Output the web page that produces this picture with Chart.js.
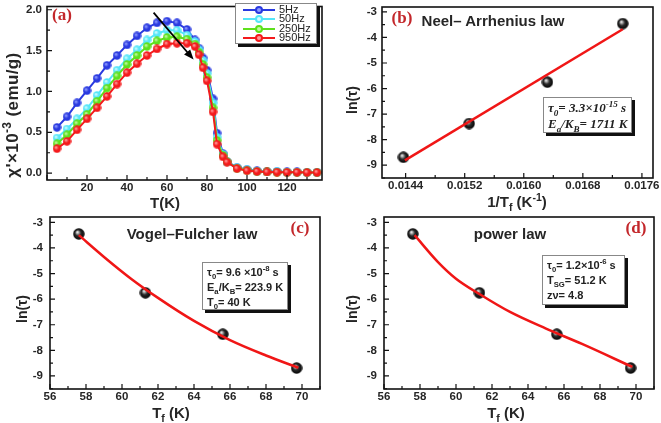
<!DOCTYPE html>
<html>
<head>
<meta charset="utf-8">
<script src="https://cdn.jsdelivr.net/npm/chart.js@4.4.1/dist/chart.umd.min.js"></script>
<style>
  body { margin: 0; background: #fff; }
  #fig { position: relative; width: 661px; height: 423px; overflow: hidden; font-family: 'Liberation Sans', Arial, sans-serif; }
  #fig canvas { position: absolute; }
  .lbl { position: absolute; transform: translate(-50%, -50%); white-space: nowrap; font-weight: bold; color: #262626; }
  .rot { transform: translate(-50%, -50%) rotate(-90deg); }
  .axt { font-size: 15px; }
  .yt { font-size: 14px; }
  .law { font-size: 15px; }
  .tag { font-family: 'Liberation Serif', 'DejaVu Serif', serif; color: #c3272b; font-size: 17px; }
  .box { position: absolute; background: #fff; border: 1px solid #888; box-shadow: 3px 3px 0 #111; font-weight: bold; font-size: 11px; line-height: 15px; padding: 2px 4px; box-sizing: border-box; color: #222; white-space: nowrap; }
  .box.it { font-family: 'Liberation Serif', 'DejaVu Serif', serif; font-style: italic; font-size: 13px; line-height: 16px; }
  sub, sup { font-size: 70%; line-height: 0; }
  #legA { position: absolute; left: 235px; top: 3px; width: 82px; height: 41px; background: #fff; border: 1px solid #888; box-shadow: 3px 3px 0 #111; box-sizing: border-box; font-size: 11px; color: #222; }
  #legA .row { position: relative; height: 9.3px; line-height: 9.3px; padding-left: 43px; }
  #legA .row:first-child { margin-top: 1px; }
  #legA .ln { position: absolute; left: 7px; top: 4px; width: 32px; height: 2px; }
  #legA .dot { position: absolute; left: 19px; top: 1px; width: 8px; height: 8px; border-radius: 50%; box-sizing: border-box; }
</style>
</head>
<body>
<div id="fig">
  <canvas id="chartA" width="330" height="200" style="left:0;top:0"></canvas>
  <canvas id="chartB" width="331" height="200" style="left:330px;top:0"></canvas>
  <canvas id="chartC" width="330" height="200" style="left:0;top:210px"></canvas>
  <canvas id="chartD" width="331" height="200" style="left:330px;top:210px"></canvas>

  <!-- panel a -->
  <div class="lbl tag" style="left:62px;top:15px">(a)</div>
  <div class="lbl axt rot" style="left:13px;top:115px;font-size:17px;letter-spacing:0.4px">χ'×10<sup>-3</sup> (emu/g)</div>
  <div class="lbl axt" style="left:165px;top:202px">T(K)</div>
  <div id="legA"></div>

  <!-- panel b -->
  <div class="lbl tag" style="left:402px;top:18px">(b)</div>
  <div class="lbl law" style="left:493px;top:20px">Neel– Arrhenius law</div>
  <div class="lbl yt rot" style="left:352px;top:100px">ln(τ)</div>
  <div class="lbl axt" style="left:517px;top:201px">1/T<sub>f</sub> (K<sup>-1</sup>)</div>
  <div class="box it" style="left:543px;top:97px;width:89px;height:36px">τ<sub>0</sub>= 3.3×10<sup>-15</sup> s<br>E<sub>a</sub>/K<sub>B</sub>= 1711 K</div>

  <!-- panel c -->
  <div class="lbl tag" style="left:300px;top:228px">(c)</div>
  <div class="lbl law" style="left:192px;top:233px">Vogel–Fulcher law</div>
  <div class="lbl yt rot" style="left:22px;top:309px">ln(τ)</div>
  <div class="lbl axt" style="left:171px;top:412px">T<sub>f</sub> (K)</div>
  <div class="box" style="left:202px;top:262px;width:86px;height:48px">τ<sub>0</sub>= 9.6 ×10<sup>-8</sup> s<br>E<sub>a</sub>/K<sub>B</sub>= 223.9 K<br>T<sub>0</sub>= 40 K</div>

  <!-- panel d -->
  <div class="lbl tag" style="left:636px;top:228px">(d)</div>
  <div class="lbl law" style="left:510px;top:233px">power law</div>
  <div class="lbl yt rot" style="left:352px;top:309px">ln(τ)</div>
  <div class="lbl axt" style="left:506px;top:412px">T<sub>f</sub> (K)</div>
  <div class="box" style="left:542px;top:255px;width:83px;height:50px">τ<sub>0</sub>= 1.2×10<sup>-6</sup> s<br>T<sub>SG</sub>= 51.2 K<br>zν= 4.8</div>
</div>

<script>
// ---- panel (a): ac susceptibility vs temperature ----
const tempK = [5, 10, 15, 20, 25, 30, 35, 40, 45, 50, 55, 60, 65, 70, 74, 76, 78, 80, 83, 85, 88, 90, 95, 100, 105, 110, 115, 120, 125, 130, 135];
const chi5Hz = [0.56, 0.69, 0.86, 1.01, 1.16, 1.32, 1.44, 1.57, 1.68, 1.78, 1.84, 1.86, 1.84, 1.76, 1.63, 1.53, 1.41, 1.26, 0.91, 0.49, 0.24, 0.14, 0.07, 0.045, 0.03, 0.02, 0.02, 0.015, 0.015, 0.01, 0.01];
const chi50Hz = [0.43, 0.54, 0.665, 0.79, 0.95, 1.11, 1.26, 1.40, 1.51, 1.63, 1.71, 1.75, 1.75, 1.69, 1.61, 1.51, 1.38, 1.22, 0.86, 0.44, 0.23, 0.14, 0.065, 0.04, 0.025, 0.02, 0.015, 0.012, 0.01, 0.01, 0.01];
const chi250Hz = [0.36, 0.47, 0.605, 0.72, 0.88, 1.04, 1.19, 1.33, 1.44, 1.55, 1.62, 1.66, 1.67, 1.64, 1.58, 1.48, 1.33, 1.17, 0.80, 0.40, 0.22, 0.14, 0.06, 0.035, 0.02, 0.015, 0.012, 0.01, 0.01, 0.008, 0.008];
const chi950Hz = [0.30, 0.39, 0.53, 0.665, 0.80, 0.94, 1.09, 1.23, 1.34, 1.44, 1.52, 1.58, 1.59, 1.59, 1.55, 1.45, 1.29, 1.13, 0.75, 0.355, 0.20, 0.135, 0.056, 0.03, 0.02, 0.015, 0.012, 0.01, 0.01, 0.008, 0.008];
const freqLabels = ['5Hz', '50Hz', '250Hz', '950Hz'];
const freqSeries = [chi5Hz, chi50Hz, chi250Hz, chi950Hz];
const lineColors = ['#2a3ae0', '#55e6f8', '#5ee01c', '#f41a1c'];
const dotColors = ['#8f9bff', '#d2fcff', '#c2f8a0', '#ff9a9a'];
const arrowFrom = [53.3, 1.965];
const arrowTo = [73.3, 1.39];

// ---- panels (b)-(d): freezing temperature fits ----
const invTf = [0.01437, 0.01526, 0.01632, 0.01734];
const lnTauB = [-8.69, -7.37, -5.75, -3.46];
const fitBx = [0.01439, 0.01734];
const fitBy = [-8.81, -3.68];

const tfK = [57.6, 61.3, 65.6, 69.7];
const lnTau = [-3.45, -5.75, -7.37, -8.69];
const fitCx = [57.6, 59, 60.5, 62, 64, 66, 68, 69.8];
const fitCy = [-3.5, -4.35, -5.2, -5.95, -6.85, -7.6, -8.2, -8.68];
const fitDx = [57.7, 59, 60, 61.3, 63, 65, 67, 69.8];
const fitDy = [-3.5, -4.55, -5.2, -5.8, -6.5, -7.15, -7.75, -8.65];

const fitRed = '#f01616';
const tickFont = { family: "'Liberation Sans', Arial, sans-serif", size: 11.5, weight: 'bold' };

function xy(xs, ys) {
  return xs.map((x, i) => ({ x: x, y: ys[i] }));
}

const isMult = (v, s) => Math.abs(v / s - Math.round(v / s)) < 1e-6;

// small shaded sphere used as a point style
function makeBall(diam, light, base, edge) {
  const c = document.createElement('canvas');
  c.width = diam;
  c.height = diam;
  const g = c.getContext('2d');
  const r = diam / 2;
  const grad = g.createRadialGradient(r * 0.75, r * 0.7, 0.5, r, r, r);
  grad.addColorStop(0, light);
  grad.addColorStop(0.45, base);
  grad.addColorStop(1, edge);
  g.fillStyle = grad;
  g.beginPath();
  g.arc(r, r, r - 0.3, 0, Math.PI * 2);
  g.fill();
  return c;
}

// closed black frame round the plot area, with inward major/minor ticks
const framePlugin = {
  id: 'frame',
  afterDraw(chart, args, opts) {
    const { ctx, chartArea: a, scales } = chart;
    ctx.save();
    ctx.strokeStyle = '#111';
    ctx.lineWidth = 1.2;
    ctx.beginPath();
    scales.x.ticks.forEach((t) => {
      const px = scales.x.getPixelForValue(t.value);
      const len = isMult(t.value, opts.xMajor) ? 5 : 3;
      ctx.moveTo(px, a.bottom);
      ctx.lineTo(px, a.bottom - len);
    });
    scales.y.ticks.forEach((t) => {
      const py = scales.y.getPixelForValue(t.value);
      const len = isMult(t.value, opts.yMajor) ? 5 : 3;
      ctx.moveTo(a.left, py);
      ctx.lineTo(a.left + len, py);
    });
    ctx.stroke();
    ctx.lineWidth = 1.6;
    ctx.strokeRect(a.left, a.top, a.right - a.left, a.bottom - a.top);
    ctx.restore();
  }
};

const arrowPlugin = {
  id: 'arrow',
  afterDatasetsDraw(chart) {
    const { ctx, scales } = chart;
    const x0 = scales.x.getPixelForValue(arrowFrom[0]);
    const y0 = scales.y.getPixelForValue(arrowFrom[1]);
    const x1 = scales.x.getPixelForValue(arrowTo[0]);
    const y1 = scales.y.getPixelForValue(arrowTo[1]);
    const ang = Math.atan2(y1 - y0, x1 - x0);
    ctx.save();
    ctx.strokeStyle = '#000';
    ctx.fillStyle = '#000';
    ctx.lineWidth = 1.8;
    ctx.beginPath();
    ctx.moveTo(x0, y0);
    ctx.lineTo(x1 - 7 * Math.cos(ang), y1 - 7 * Math.sin(ang));
    ctx.stroke();
    ctx.beginPath();
    ctx.moveTo(x1, y1);
    ctx.lineTo(x1 - 10 * Math.cos(ang) + 4 * Math.sin(ang), y1 - 10 * Math.sin(ang) - 4 * Math.cos(ang));
    ctx.lineTo(x1 - 10 * Math.cos(ang) - 4 * Math.sin(ang), y1 - 10 * Math.sin(ang) + 4 * Math.cos(ang));
    ctx.closePath();
    ctx.fill();
    ctx.restore();
  }
};

function axis(a, horizontal) {
  return {
    type: 'linear',
    min: a.min,
    max: a.max,
    border: { display: false },
    grid: { display: false, drawTicks: false },
    ticks: {
      stepSize: a.step,
      includeBounds: false,
      autoSkip: false,
      maxRotation: 0,
      padding: a.gap,
      color: '#262626',
      font: tickFont,
      callback: a.fmt
    },
    afterFit: (s) => {
      if (horizontal) s.height = a.size; else s.width = a.size;
      s.paddingTop = 0; s.paddingBottom = 0; s.paddingLeft = 0; s.paddingRight = 0;
    }
  };
}

function makePanel(id, cfg) {
  return new Chart(document.getElementById(id), {
    type: 'scatter',
    data: { datasets: cfg.datasets },
    options: {
      responsive: false,
      animation: false,
      devicePixelRatio: 1,
      layout: { padding: cfg.pad },
      plugins: {
        legend: { display: false },
        tooltip: { enabled: false },
        frame: { xMajor: cfg.x.major, yMajor: cfg.y.major }
      },
      scales: { x: axis(cfg.x, true), y: axis(cfg.y, false) }
    },
    plugins: [framePlugin].concat(cfg.extra || [])
  });
}

function fitLine(xs, ys, smooth) {
  return {
    data: xy(xs, ys),
    showLine: true,
    borderColor: fitRed,
    borderWidth: 2.5,
    pointRadius: 0,
    cubicInterpolationMode: smooth ? 'monotone' : 'default',
    order: 0
  };
}

const blackBall = makeBall(12, '#e8e8e8', '#2a2a2a', '#000');

function ballPoints(xs, ys) {
  return {
    data: xy(xs, ys),
    pointStyle: blackBall,
    pointRadius: 6,
    order: 1
  };
}

const tempFmt = (v) => isMult(v, 2) ? String(Math.round(v)) : '';
const lnFmt = (v) => isMult(v, 1) ? String(Math.round(v)) : '';

// panel (a)
makePanel('chartA', {
  pad: { left: 0, top: 2, right: 8, bottom: 0 },
  x: { min: 0, max: 137.5, step: 10, major: 20, size: 20, gap: 1, fmt: (v) => (v > 0 && isMult(v, 20)) ? String(Math.round(v)) : '' },
  y: { min: -0.0835, max: 2.04, step: 0.25, major: 0.5, size: 47, gap: 5, fmt: (v) => isMult(v, 0.5) ? v.toFixed(1) : '' },
  datasets: freqSeries.map((vals, i) => ({
    label: freqLabels[i],
    data: xy(tempK, vals),
    showLine: true,
    borderColor: lineColors[i],
    borderWidth: 2,
    pointStyle: makeBall(9, dotColors[i], lineColors[i], lineColors[i]),
    pointRadius: 4.5,
    order: freqSeries.length - i
  })),
  extra: [arrowPlugin]
});

// panel (b)
makePanel('chartB', {
  pad: { left: 0, top: 1, right: 8, bottom: 0 },
  x: { min: 0.01408, max: 0.01775, step: 0.0004, major: 0.0008, size: 22, gap: 1, fmt: (v) => isMult(v, 0.0008) ? v.toFixed(4) : '' },
  y: { min: -9.5, max: -2.81, step: 0.5, major: 1, size: 52, gap: 5, fmt: lnFmt },
  datasets: [fitLine(fitBx, fitBy, false), ballPoints(invTf, lnTauB)]
});

// panel (c)
makePanel('chartC', {
  pad: { left: 0, top: 1, right: 10, bottom: 0 },
  x: { min: 56, max: 71, step: 1, major: 2, size: 21, gap: 1, fmt: tempFmt },
  y: { min: -9.51, max: -2.79, step: 0.5, major: 1, size: 50, gap: 7, fmt: lnFmt },
  datasets: [fitLine(fitCx, fitCy, true), ballPoints(tfK, lnTau)]
});

// panel (d)
makePanel('chartD', {
  pad: { left: 0, top: 1, right: 6, bottom: 0 },
  x: { min: 56, max: 71, step: 1, major: 2, size: 21, gap: 1, fmt: tempFmt },
  y: { min: -9.51, max: -2.79, step: 0.5, major: 1, size: 54, gap: 7, fmt: lnFmt },
  datasets: [fitLine(fitDx, fitDy, true), ballPoints(tfK, lnTau)]
});

// legend for panel (a)
const legA = document.getElementById('legA');
freqLabels.forEach((name, i) => {
  const row = document.createElement('div');
  row.className = 'row';
  row.innerHTML = '<span class="ln" style="background:' + lineColors[i] + '"></span>' +
    '<span class="dot" style="background:' + dotColors[i] + ';border:2px solid ' + lineColors[i] + '"></span>' + name;
  legA.appendChild(row);
});
</script>
</body>
</html>
